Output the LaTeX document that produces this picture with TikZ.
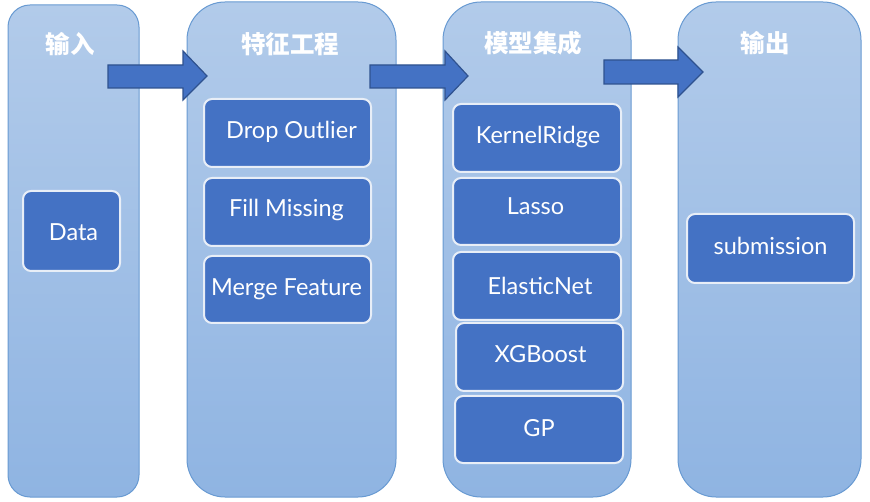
\documentclass[tikz,border=0pt]{standalone}
\usepackage{fontspec}
\setmainfont{Lato}
\newfontfamily\cjk{Noto Sans CJK SC}
\definecolor{coltop}{RGB}{178,203,234}
\definecolor{colbot}{RGB}{143,180,226}
\definecolor{colborder}{RGB}{104,154,210}
\definecolor{boxfill}{RGB}{68,114,196}
\definecolor{boxline}{RGB}{232,238,247}
\definecolor{arrline}{RGB}{47,82,143}
\tikzset{
  column/.style={draw=colborder, line width=1pt, top color=coltop, bottom color=colbot},
  title/.style={text=white, font=\cjk\bfseries\fontsize{24.5}{28}\selectfont, anchor=center},
  item/.style={draw=boxline, line width=2pt, fill=boxfill, rounded corners=8pt, text=white,
    font=\fontsize{23.5}{27}\selectfont},
  flow/.style={fill=boxfill, draw=arrline, line width=1.2pt, line join=miter},
}
\begin{document}
\begin{tikzpicture}[x=1pt,y=-1pt]
\useasboundingbox (0,0) rectangle (870,502);
% columns
\draw[column, rounded corners=22pt] (8,5) rectangle (139,497);
\draw[column, rounded corners=38pt] (187,2) rectangle (396,497);
\draw[column, rounded corners=38pt] (443,2) rectangle (631,497);
\draw[column, rounded corners=38pt] (678,2) rectangle (861,497);
% titles
\node[title] (t1) at (70,44) {输入};
\node[title] (t2) at (290,44) {特征工程};
\node[title] (t3) at (533,43) {模型集成};
\node[title] (t4) at (765,43) {输出};
% arrows
\draw[flow] (108,65) -- (183,65) -- (183,51) -- (207,76) -- (183,100) -- (183,88) -- (108,88) -- cycle;
\draw[flow] (370,65) -- (445,65) -- (445,51) -- (468,76) -- (445,100) -- (445,88) -- (370,88) -- cycle;
\draw[flow] (604,60) -- (678,60) -- (678,47) -- (703,72) -- (678,97) -- (678,84) -- (604,84) -- cycle;
% items
\draw[item] (23,191) rectangle node[xshift=2pt, yshift=-1pt] (data) {Data} (120,271);
\draw[item] (204,99) rectangle node[xshift=4pt, yshift=1.5pt] (drop) {Drop Outlier} (371,167);
\draw[item] (204,178) rectangle node[xshift=-1pt, yshift=2.5pt] (fill) {Fill Missing} (371,246);
\draw[item] (204,256) rectangle node[xshift=-1pt] (merge) {Merge Feature} (371,323);
\draw[item] (453,104) rectangle node[xshift=1pt, yshift=1pt] (kr) {KernelRidge} (621,172);
\draw[item] (453,178) rectangle node[xshift=-1.5pt, yshift=5.5pt] (lasso) {Lasso} (621,245);
\draw[item] (453,252) rectangle node[xshift=3pt] (en) {ElasticNet} (621,320);
\draw[item] (456,323) rectangle node[xshift=1pt, yshift=3pt] (xgb) {XGBoost} (623,391);
\draw[item] (455,396) rectangle node[yshift=1pt] (gp) {GP} (623,463);
\draw[item] (687,214) rectangle node[yshift=3pt] (sub) {submission} (854,283);
\end{tikzpicture}
\end{document}
